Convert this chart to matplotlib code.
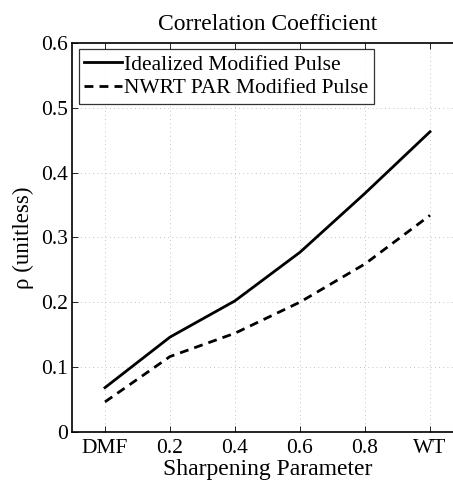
import numpy as np
import matplotlib
matplotlib.use('Agg')
import matplotlib.pyplot as plt

plt.rcParams['font.family'] = ['Liberation Serif', 'DejaVu Serif']

# sharpening parameter categories
categories = ['DMF', '0.2', '0.4', '0.6', '0.8', 'WT']
# correlation coefficient values
idealized = [0.068, 0.146, 0.202, 0.277, 0.368, 0.463]
nwrt_par = [0.046, 0.116, 0.152, 0.200, 0.259, 0.334]
yticks = [0, 0.1, 0.2, 0.3, 0.4, 0.5, 0.6]

fig = plt.figure(figsize=(4.53, 4.82), dpi=100)
ax = fig.add_axes([0.160, 0.1044, 0.861, 0.8064])

x = np.arange(len(categories))
ax.plot(x, idealized, 'k-', lw=2, label='Idealized Modified Pulse')
ax.plot(x, nwrt_par, 'k--', lw=2, dashes=(3.2, 2.2), label='NWRT PAR Modified Pulse')

ax.set_xlim(-0.5, 5.5)
ax.set_ylim(0, 0.6)
ax.set_xticks(x)
ax.set_xticklabels(categories)
ax.set_yticks(yticks)
ax.set_yticklabels([('%g' % v) for v in yticks])
ax.tick_params(direction='in', top=True, right=True, labelsize=15.5, length=4, width=0.6)
ax.tick_params(axis='x', pad=5)
ax.tick_params(axis='y', pad=3)
ax.grid(True, ls=(0, (1, 4)), color='#b0b0b0', lw=0.6)
for s in ax.spines.values():
    s.set_linewidth(1.2)

ax.set_title('Correlation Coefficient', fontsize=17, pad=9)
ax.set_xlabel('Sharpening Parameter', fontsize=17, labelpad=1)
ax.set_ylabel('ρ (unitless)', fontsize=16.5, labelpad=5)

leg = ax.legend(loc='upper left', fontsize=15.5, frameon=True, fancybox=False,
                edgecolor='k', borderpad=0.25, handlelength=1.75, handletextpad=0.1,
                labelspacing=0.15, borderaxespad=0.3)
leg.get_frame().set_linewidth(0.9)

fig.savefig('out.png', dpi=100)
